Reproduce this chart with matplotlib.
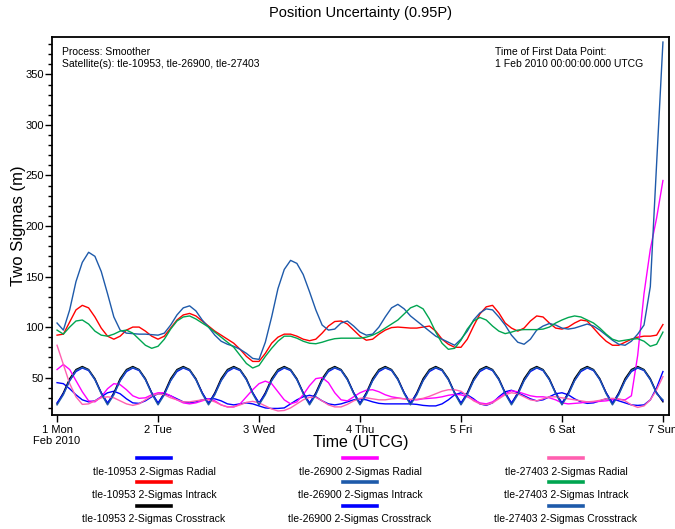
import numpy as np
import matplotlib
matplotlib.use("Agg")
import matplotlib.pyplot as plt
from matplotlib.lines import Line2D
from matplotlib.ticker import MultipleLocator

plt.rcParams['font.family'] = ['Liberation Sans', 'DejaVu Sans']

# samples every 1.5 h from 1 Feb 2010 00:00 UTCG (days since start)
days = np.arange(0, 145, 1.5) / 24.0

day_labels = ["1 Mon\nFeb 2010", "2 Tue", "3 Wed", "4 Thu", "5 Fri", "6 Sat", "7 Sun"]

# tle-10953
rad_10953 = [45, 44, 39, 33, 28, 26, 27, 31, 35, 36.5, 34, 29, 25, 24.5, 27, 31,
             34, 34, 32, 29, 26, 25, 26, 28, 29, 29, 27, 24, 23, 24, 25, 24,
             22, 20, 19.5, 19.5, 20, 24, 28, 31, 32.5, 31, 27, 24, 23, 24, 26, 28,
             29, 28, 26, 24.5, 24, 24, 24, 24, 24, 23.5, 22.5, 22, 22, 24, 28, 33,
             35, 33, 29, 24, 22.5, 25, 31, 36, 37.5, 35, 32, 29, 27, 28, 31, 34,
             35, 33, 29, 26, 24.5, 25, 27, 29, 29, 27, 25, 23, 22.5, 23, 28, 40,
             56]
int_10953 = [92, 93, 105, 117, 121.5, 119, 110, 99, 91, 88, 91, 97, 100, 100, 96, 91,
             88, 91, 99, 107, 112, 113.5, 111, 106, 101, 96, 92, 88, 84, 78, 71, 66,
             66, 74, 84, 90, 93, 93, 91, 88, 86.5, 88, 94, 101, 105.5, 106, 103, 97,
             91, 87, 88, 93, 97, 99.5, 100, 99.5, 99, 99, 100, 101, 96, 88, 83, 80,
             80, 88, 101, 113, 120, 121.5, 114, 104, 99, 96, 99, 106, 111, 110, 104, 99,
             98, 100, 104, 107, 106, 99, 92, 86, 82, 82, 85, 88, 90, 91, 91, 92,
             102.5]
crs_10953 = [24, 35, 49, 58, 61, 58, 49, 35, 24, 35, 49, 58, 61, 58, 49, 35,
             24, 35, 49, 58, 61, 58, 49, 35, 24, 35, 49, 58, 61, 58, 49, 35,
             24, 35, 49, 58, 61, 58, 49, 35, 24, 35, 49, 58, 61, 58, 49, 35,
             24, 35, 49, 58, 61, 58, 49, 35, 24, 35, 49, 58, 61, 58, 49, 35,
             24, 35, 49, 58, 61, 58, 49, 35, 24, 35, 49, 58, 61, 58, 49, 35,
             24, 35, 49, 58, 61, 58, 49, 35, 24, 35, 49, 58, 61, 58, 49, 35,
             26]

# tle-26900
rad_26900 = [58, 63, 58, 47, 36, 27, 26, 31, 39, 44, 43, 38, 32, 29.5, 30, 33,
             35, 35, 32, 28, 25, 24, 25, 27, 29, 27, 23, 21, 21, 24, 31, 38,
             44, 46.5, 44, 36, 28, 24, 26, 33, 42, 49, 50, 45, 35, 28, 27, 31,
             35, 37.5, 38, 36, 33, 31, 30, 29, 28, 28, 29, 29.5, 30, 31, 32.5, 33.5,
             33, 31, 28, 25, 24, 26, 30, 34, 37, 36, 34, 32, 31, 31, 30, 28,
             25, 24, 24.5, 25, 26, 26, 26.5, 27, 28, 28.5, 28, 32, 72, 133, 177, 208,
             245]
int_26900 = [104, 97, 117, 145, 164, 174, 170, 155, 133, 110, 97, 94, 93.5, 93, 93, 92.5,
             92, 94, 102, 112, 119, 121, 116, 107, 100, 92, 86, 83, 81, 78, 74, 69,
             68, 85, 110, 138, 157, 166, 163, 152, 135, 117, 102, 97, 98, 104, 106, 101,
             95, 92, 93, 100, 110, 119, 122.5, 118, 111, 106, 101, 96, 91, 88, 85, 82,
             88, 96, 107, 114, 118, 117, 110, 102, 92, 85, 83, 88, 97, 101, 103.5, 102,
             99, 98, 99, 101, 103, 101, 97, 92, 87, 83, 82, 86, 93, 102, 140, 262,
             382]
crs_26900 = [25, 34, 47, 56, 59.5, 57, 48, 35, 25, 34, 47, 56, 59.5, 57, 48, 35,
             25, 34, 47, 56, 59.5, 57, 48, 35, 25, 34, 47, 56, 59.5, 57, 48, 35,
             25, 34, 47, 56, 59.5, 57, 48, 35, 25, 34, 47, 56, 59.5, 57, 48, 35,
             25, 34, 47, 56, 59.5, 57, 48, 35, 25, 34, 47, 56, 59.5, 57, 48, 35,
             25, 34, 47, 56, 59.5, 57, 48, 35, 25, 34, 47, 56, 59.5, 57, 48, 35,
             25, 34, 47, 56, 59.5, 57, 48, 35, 25, 34, 47, 56, 59.5, 57, 48, 35,
             27]

# tle-27403
rad_27403 = [82, 63, 44, 31, 23.5, 24, 27, 30, 31, 30, 27, 24, 22.5, 24, 28, 32,
             34, 33, 30, 28, 26, 26, 27, 28, 28, 26, 23, 21, 21, 23, 25.5, 26.5,
             25, 22, 19, 17, 17.5, 20, 24, 28, 30.5, 30.5, 27, 23, 21, 21, 23.5, 27,
             29.5, 30, 29, 28, 28, 29, 29.5, 29, 28.5, 28.5, 29.5, 31.5, 34, 36.5, 38, 38,
             36.5, 32, 27, 24, 23, 25, 29, 33, 35, 34, 31, 28, 27, 29, 31, 31,
             30, 29, 28, 27, 26, 26.5, 27.5, 29, 29.5, 29, 27, 23, 20.5, 22, 28, 38,
             51]
int_27403 = [97, 93, 100, 106, 107, 103, 96, 92, 91, 93, 96, 97, 94, 88, 82, 79,
             81, 88, 98, 106, 110, 111, 108, 104, 100, 95, 90, 85, 80, 72, 64, 59.5,
             62, 71, 79, 86, 91, 91, 89, 86, 84, 83.5, 85, 87, 88.5, 89, 89, 89,
             89, 90, 92, 95, 99, 103, 107, 113, 119, 121.5, 118, 108, 95, 84, 78, 79,
             87, 98, 106, 109.5, 107, 101, 96, 93.5, 95, 97, 97.5, 97.5, 97.5, 98, 100, 104,
             107, 109.5, 111, 110, 107, 104, 99, 93, 88, 86, 87, 88, 88.5, 86, 81, 83,
             95]
crs_27403 = [23, 33, 47, 57, 60, 57.5, 48, 34, 23, 33, 47, 57, 60, 57.5, 48, 34,
             23, 33, 47, 57, 60, 57.5, 48, 34, 23, 33, 47, 57, 60, 57.5, 48, 34,
             23, 33, 47, 57, 60, 57.5, 48, 34, 23, 33, 47, 57, 60, 57.5, 48, 34,
             23, 33, 47, 57, 60, 57.5, 48, 34, 23, 33, 47, 57, 60, 57.5, 48, 34,
             23, 33, 47, 57, 60, 57.5, 48, 34, 23, 33, 47, 57, 60, 57.5, 48, 34,
             23, 33, 47, 57, 60, 57.5, 48, 34, 23, 33, 47, 57, 60, 57.5, 48, 34,
             28]

series = [
    ("tle-10953 2-Sigmas Radial", rad_10953, "#0000ff"),
    ("tle-10953 2-Sigmas Intrack", int_10953, "#ff0000"),
    ("tle-10953 2-Sigmas Crosstrack", crs_10953, "#000000"),
    ("tle-26900 2-Sigmas Radial", rad_26900, "#ff00ff"),
    ("tle-26900 2-Sigmas Intrack", int_26900, "#1e5aaa"),
    ("tle-26900 2-Sigmas Crosstrack", crs_26900, "#0000ff"),
    ("tle-27403 2-Sigmas Radial", rad_27403, "#ff5fb0"),
    ("tle-27403 2-Sigmas Intrack", int_27403, "#00a550"),
    ("tle-27403 2-Sigmas Crosstrack", crs_27403, "#1e5aaa"),
]

W, H = 675, 529
fig = plt.figure(figsize=(W / 100, H / 100), dpi=100)
ax = fig.add_axes([52 / W, 1 - 415 / H, 617 / W, 378 / H])

for name, vals, col in series:
    ax.plot(days, vals, color=col, lw=1.0)

ax.set_xlim(-0.05, 6.06)
ax.set_ylim(13, 387)
ax.set_xticks(range(7))
ax.set_xticklabels(day_labels, fontsize=8)
ax.yaxis.set_major_locator(MultipleLocator(50))
ax.yaxis.set_minor_locator(MultipleLocator(10))
ax.tick_params(axis='y', which='major', length=5, width=1, direction='out', labelsize=8, pad=1)
ax.tick_params(axis='y', which='minor', length=3, width=1, direction='out')
ax.tick_params(axis='x', length=5, width=1, direction='out', pad=2)
for s in ax.spines.values():
    s.set_linewidth(1.3)

# axis titles placed like the reference (x title sits beside "Feb 2010")
fig.text(0.5 * (52 + 669) / W, 1 - 443 / H, "Time (UTCG)", ha='center', va='center', fontsize=11.5)
fig.text(19 / W, 1 - 226 / H, "Two Sigmas (m)", ha='center', va='center',
         rotation=90, fontsize=12)
fig.text(0.5 * (52 + 669) / W, 1 - 13 / H, "Position Uncertainty (0.95P)",
         ha='center', va='center', fontsize=10.5)

fig.text(62 / W, 1 - 52 / H, "Process: Smoother", fontsize=7.5, va='center')
fig.text(62 / W, 1 - 64.5 / H, "Satellite(s): tle-10953, tle-26900, tle-27403",
         fontsize=7.5, va='center')
fig.text(495 / W, 1 - 52 / H, "Time of First Data Point:", fontsize=7.5, va='center')
fig.text(495 / W, 1 - 64.5 / H, "1 Feb 2010 00:00:00.000 UTCG", fontsize=7.5, va='center')

# legend: 3 columns (one per satellite), swatch above each label
for k, (name, vals, col) in enumerate(series):
    c, r = divmod(k, 3)
    cx = 154 + 206 * c
    hy = 457.7 + 24.2 * r
    ty = 471.7 + 23.7 * r
    fig.add_artist(Line2D([(cx - 17) / W, (cx + 17) / W], [1 - hy / H, 1 - hy / H],
                          color=col, lw=2.6, transform=fig.transFigure))
    fig.text(cx / W, 1 - ty / H, name, ha='center', va='center', fontsize=7.5)

fig.savefig("out.png", dpi=100)
